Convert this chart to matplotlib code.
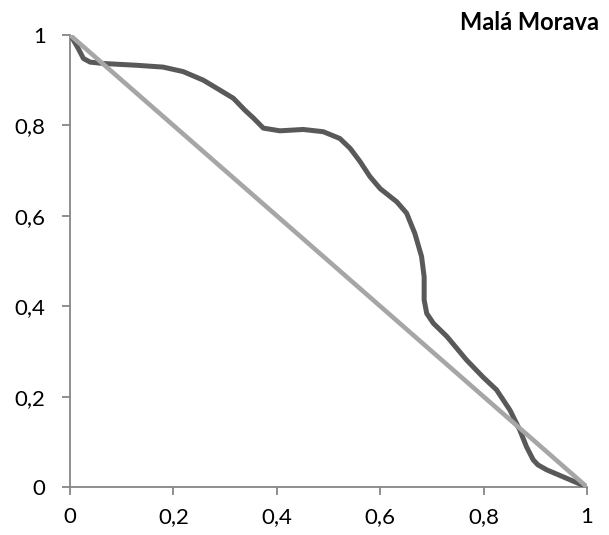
import matplotlib
matplotlib.use("Agg")
from matplotlib import pyplot as plt

# curve (smoothed Excel scatter)
curve_x = [0.0, 0.005, 0.016, 0.026, 0.039, 0.064, 0.129, 0.180, 0.219, 0.258,
           0.290, 0.316, 0.338, 0.355, 0.374, 0.406, 0.451, 0.490, 0.522, 0.542,
           0.561, 0.580, 0.600, 0.632, 0.651, 0.667, 0.680, 0.685, 0.685, 0.690,
           0.703, 0.729, 0.767, 0.799, 0.825, 0.851, 0.870, 0.883, 0.896, 0.905,
           0.922, 1.0]
curve_y = [1.0, 0.992, 0.970, 0.948, 0.940, 0.937, 0.933, 0.929, 0.919, 0.900,
           0.878, 0.860, 0.834, 0.816, 0.794, 0.788, 0.791, 0.786, 0.771, 0.749,
           0.720, 0.687, 0.660, 0.631, 0.606, 0.561, 0.510, 0.465, 0.414, 0.384,
           0.362, 0.333, 0.281, 0.243, 0.215, 0.170, 0.126, 0.089, 0.060, 0.049,
           0.038, 0.0]
diag_x = [0, 1]
diag_y = [1, 0]
ticks = [0, 0.2, 0.4, 0.6, 0.8, 1]
tick_labels = ["0", "0,2", "0,4", "0,6", "0,8", "1"]
title = "Malá Morava"

plt.rcParams['font.family'] = ['Lato', 'DejaVu Sans']

fig = plt.figure(figsize=(6.09, 5.35), dpi=100)
ax = fig.add_axes([70 / 609, 1 - 487 / 535, 517 / 609, 452 / 535])

ax.plot(curve_x, curve_y, color='#595959', lw=3.6, solid_joinstyle='round',
        solid_capstyle='round', zorder=3)
ax.plot(diag_x, diag_y, color='#a6a6a6', lw=3.3, solid_capstyle='butt', zorder=4)

ax.set_xlim(0, 1)
ax.set_ylim(0, 1)
ax.set_xticks(ticks)
ax.set_xticklabels(tick_labels)
ax.set_yticks(ticks)
ax.set_yticklabels(tick_labels)
for s in ['top', 'right']:
    ax.spines[s].set_visible(False)
for s in ['left', 'bottom']:
    ax.spines[s].set_color('#868686')
    ax.spines[s].set_linewidth(1.3)
ax.tick_params(colors='#868686', labelcolor='black', labelsize=16,
               length=5.5, width=1.3)
ax.tick_params(axis='y', pad=12)
ax.tick_params(axis='x', pad=9)

fig.text(599 / 609, 1 - 23 / 535, title, ha='right', va='center',
         fontsize=17, fontweight='bold')

fig.savefig("out.png", dpi=100)
